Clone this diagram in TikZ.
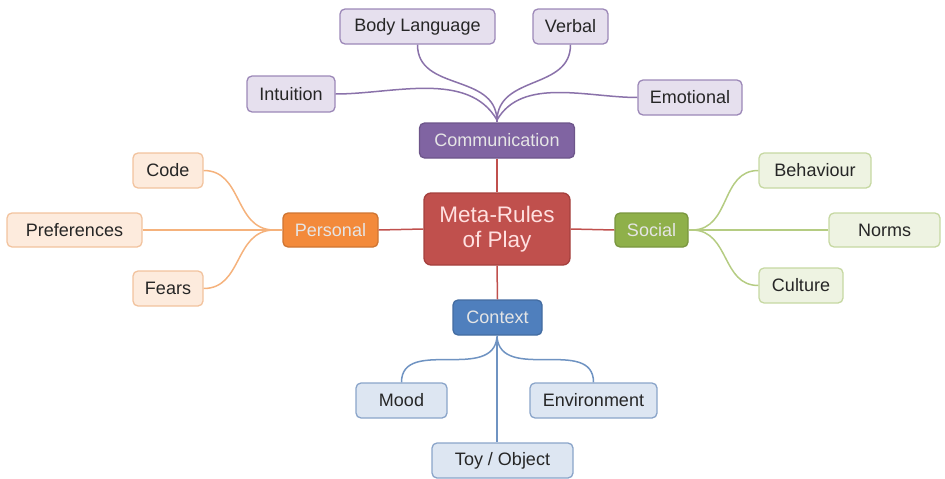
\documentclass[tikz,border=0pt]{standalone}
\usepackage{fontspec}
\setmainfont{Liberation Sans}
\begin{document}
\begin{tikzpicture}[x=1pt,y=-1pt,
  box/.style={rounded corners=5pt, line width=1.3pt, inner sep=0pt, font=\fontsize{18}{20}\selectfont, text=black!85},
  mainbox/.style={box, text=white!90!black},
  leafP/.style={box, fill=pleaf, draw=pedge},
  leafO/.style={box, fill=oleaf, draw=oedge},
  leafG/.style={box, fill=gleaf, draw=gedge},
  leafB/.style={box, fill=bleaf, draw=bedge},
  conn/.style={line width=1.5pt},
]
\definecolor{redm}{HTML}{C0504D}
\definecolor{rededge}{HTML}{A5403D}
\definecolor{purm}{HTML}{8064A2}
\definecolor{pleaf}{HTML}{E6E0EE}
\definecolor{pedge}{HTML}{9C88B8}
\definecolor{pline}{HTML}{8A72AA}
\definecolor{orm}{HTML}{F38A3B}
\definecolor{oleaf}{HTML}{FDEBDD}
\definecolor{oedge}{HTML}{F2C39E}
\definecolor{oline}{HTML}{F5B27C}
\definecolor{grm}{HTML}{8FB04A}
\definecolor{gleaf}{HTML}{EEF3E2}
\definecolor{gedge}{HTML}{C6D8A2}
\definecolor{gline}{HTML}{B5CC82}
\definecolor{blm}{HTML}{4F7FBD}
\definecolor{bleaf}{HTML}{DDE6F2}
\definecolor{bedge}{HTML}{8AA4C9}
\definecolor{bline}{HTML}{6F93C2}

\useasboundingbox (0,0) rectangle (945,479);

% centre
\node[box, fill=redm, draw=rededge, text=white!88!red, minimum width=146pt, minimum height=72pt, align=center,
  font=\fontsize{22.5}{25}\selectfont, rounded corners=7pt] (center) at (497,229) {Meta-Rules\\of Play};

% main branches
\node[mainbox, fill=purm, draw=purm!85!black, minimum width=155pt, minimum height=35pt] (comm) at (497,140.5) {Communication};
\node[mainbox, fill=orm, draw=orm!85!black, minimum width=95pt, minimum height=34pt] (personal) at (330.5,230) {Personal};
\node[mainbox, fill=grm, draw=grm!85!black, minimum width=73pt, minimum height=34pt] (social) at (651.5,230) {Social};
\node[mainbox, fill=blm, draw=blm!85!black, minimum width=89pt, minimum height=35pt] (context) at (497.5,317.5) {Context};

% communication leaves
\node[leafP, minimum width=155pt, minimum height=35pt] (body) at (417.5,26.5) {Body Language};
\node[leafP, minimum width=75pt, minimum height=35pt] (verbal) at (570.5,26.5) {Verbal};
\node[leafP, minimum width=88pt, minimum height=36pt] (intuition) at (291,94) {Intuition};
\node[leafP, minimum width=104pt, minimum height=35pt] (emotional) at (690,97.5) {Emotional};

% personal leaves
\node[leafO, minimum width=70pt, minimum height=35pt] (code) at (168,170.5) {Code};
\node[leafO, minimum width=135pt, minimum height=34pt] (pref) at (74.5,230) {Preferences};
\node[leafO, minimum width=70pt, minimum height=35pt] (fears) at (168,288.5) {Fears};

% social leaves
\node[leafG, minimum width=112pt, minimum height=35pt] (behaviour) at (815,170.5) {Behaviour};
\node[leafG, minimum width=111pt, minimum height=34pt] (norms) at (884.5,230) {Norms};
\node[leafG, minimum width=84pt, minimum height=35pt] (culture) at (801,285.5) {Culture};

% context leaves
\node[leafB, minimum width=91pt, minimum height=35pt] (mood) at (401.5,400.5) {Mood};
\node[leafB, minimum width=127pt, minimum height=35pt] (env) at (593.5,400.5) {Environment};
\node[leafB, minimum width=141pt, minimum height=35pt] (toy) at (502.5,460.5) {Toy / Object};

% junctions
\coordinate (cj) at (497,120);
\coordinate (pj) at (273,230);
\coordinate (sj) at (693,230);
\coordinate (xj) at (497,337);

% red connectors
\draw[conn, draw=redm] (center.north) -- (comm.south);
\draw[conn, draw=redm] (center.south) -- (context.north);
\draw[conn, draw=redm] (center.west) -- (personal.east);
\draw[conn, draw=redm] (center.east) -- (social.west);

% communication connectors
\draw[conn, draw=pline] (body.south) to[out=-90, in=92, looseness=1.1] (cj);
\draw[conn, draw=pline] (verbal.south) to[out=-90, in=88, looseness=1.1] (cj);
\draw[conn, draw=pline] (intuition.east) to[out=0, in=120, looseness=0.9] (cj);
\draw[conn, draw=pline] (emotional.west) to[out=180, in=60, looseness=0.9] (cj);
\draw[conn, draw=pline] (cj) -- (comm.north);

% personal connectors
\draw[conn, draw=oline] (code.east) to[out=0, in=178, looseness=1.1] (pj);
\draw[conn, draw=oline] (fears.east) to[out=0, in=182, looseness=1.1] (pj);
\draw[conn, draw=oline] (pref.east) -- (pj);
\draw[conn, draw=oline] (pj) -- (personal.west);

% social connectors
\draw[conn, draw=gline] (behaviour.west) to[out=180, in=2, looseness=1.1] (sj);
\draw[conn, draw=gline] (culture.west) to[out=180, in=-2, looseness=1.1] (sj);
\draw[conn, draw=gline] (norms.west) -- (sj);
\draw[conn, draw=gline] (sj) -- (social.east);

% context connectors
\draw[conn, draw=bline] (context.south) -- (xj);
\draw[conn, draw=bline] (mood.north) to[out=90, in=-95, looseness=1.1] (xj);
\draw[conn, draw=bline] (env.north) to[out=90, in=-85, looseness=1.1] (xj);
\draw[conn, draw=bline] (xj) -- (xj |- toy.north);
\end{tikzpicture}
\end{document}
